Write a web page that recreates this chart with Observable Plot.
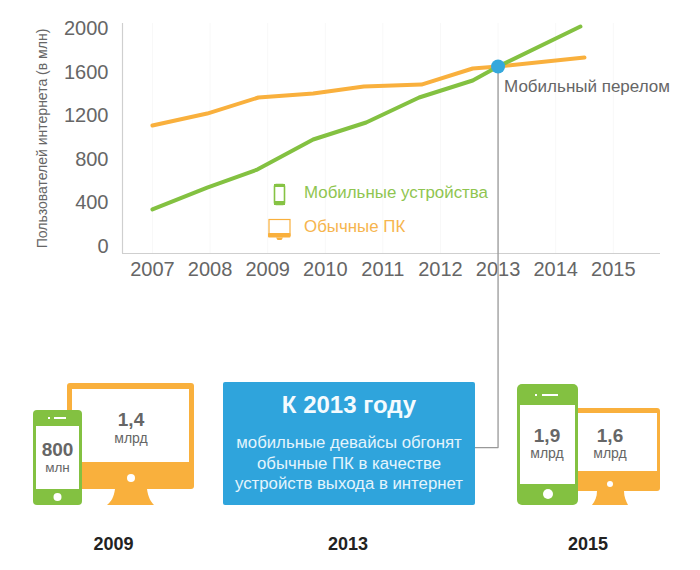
<!DOCTYPE html>
<html lang="ru">
<head>
<meta charset="utf-8">
<script src="https://cdn.jsdelivr.net/npm/d3@7"></script>
<script src="https://cdn.jsdelivr.net/npm/@observablehq/plot@0.6"></script>
<style>
  html, body { margin: 0; padding: 0; background: #fff; }
  #wrap { position: relative; width: 700px; height: 570px; font-family: "Liberation Sans", Arial, sans-serif; overflow: hidden; }
  #wrap > svg { position: absolute; left: 0; top: 0; }
  #card { position: absolute; left: 223px; top: 382px; width: 252px; height: 123px; background: #2fa4dc; border-radius: 2px; color: #e4f4fc; text-align: center; }
  #card h2 { margin: 0; position: absolute; left: 0; right: 0; top: 9px; font-size: 24px; line-height: 28px; font-weight: bold; color: #f4fbfe; }
  #card p { margin: 0; position: absolute; left: 0; right: 0; top: 51px; font-size: 16.8px; line-height: 20.5px; white-space: nowrap; }
</style>
</head>
<body>
<div id="wrap">
  <div id="chart"></div>
  <svg id="icons" width="700" height="570" viewBox="0 0 700 570" font-family="Liberation Sans, Arial, sans-serif">
    <!-- legend -->
    <rect x="274.5" y="184.5" width="10" height="20" rx="1.5" fill="#fff" stroke="#86c344" stroke-width="1.6"/>
    <rect x="274" y="184" width="11" height="3" fill="#86c344"/>
    <rect x="274" y="201" width="11" height="4" fill="#86c344"/>
    <text x="304" y="198" font-size="16.900" fill="#8fc550">Мобильные устройства</text>
    <rect x="269" y="219.5" width="21" height="16" fill="#fff" stroke="#f9b03d" stroke-width="1.2"/>
    <rect x="268" y="233" width="22.5" height="4.5" rx="1" fill="#f9b03d"/>
    <path d="M276 237.5H283L281.5 240H277.5Z" fill="#f9b03d"/>
    <text x="304" y="232" font-size="16.900" fill="#f6b54e">Обычные ПК</text>

    <!-- 2009 -->
    <rect x="67" y="383" width="127" height="106" rx="3" fill="#f9b03d"/>
    <rect x="72" y="389" width="117" height="73" fill="#fff"/>
    <circle cx="131" cy="478" r="4" fill="#fff"/>
    <path d="M115 489H147C148 497 151 502 154 505H107C111 502 114 497 115 489Z" fill="#f9b03d"/>
    <rect x="33" y="410" width="49" height="95" rx="4" fill="#83c141"/>
    <rect x="36" y="426" width="43" height="63" fill="#fff"/>
    <rect x="48" y="417" width="2" height="2" fill="#fff"/>
    <rect x="54" y="417" width="12" height="2" fill="#fff"/>
    <circle cx="57.500" cy="497" r="4" fill="#fff"/>
    <text x="57.500" y="456" text-anchor="middle" font-size="19" font-weight="bold" fill="#666">800</text>
    <text x="57.500" y="472" text-anchor="middle" font-size="13.500" fill="#666">млн</text>
    <text x="131" y="426" text-anchor="middle" font-size="19" font-weight="bold" fill="#666">1,4</text>
    <text x="131" y="443" text-anchor="middle" font-size="14" fill="#666">млрд</text>

    <!-- 2015 -->
    <rect x="570" y="408" width="90" height="83" rx="3" fill="#f9b03d"/>
    <rect x="570" y="413" width="87" height="58" fill="#fff"/>
    <circle cx="610" cy="484" r="3" fill="#fff"/>
    <path d="M597 491H624C624 497 626 501 628 505H592C595 501 597 497 597 491Z" fill="#f9b03d"/>
    <rect x="517" y="384" width="61" height="121" rx="5" fill="#83c141"/>
    <rect x="520" y="405" width="55" height="79" fill="#fff"/>
    <rect x="535" y="394" width="2" height="2" fill="#fff"/>
    <rect x="542" y="394" width="16" height="2" fill="#fff"/>
    <circle cx="548" cy="494" r="5" fill="#fff"/>
    <text x="547" y="442" text-anchor="middle" font-size="19" font-weight="bold" fill="#666">1,9</text>
    <text x="547" y="458" text-anchor="middle" font-size="14" fill="#666">млрд</text>
    <text x="610" y="442" text-anchor="middle" font-size="19" font-weight="bold" fill="#666">1,6</text>
    <text x="610" y="458" text-anchor="middle" font-size="14" fill="#666">млрд</text>

    <!-- years -->
    <text x="113.500" y="550" text-anchor="middle" font-size="18" font-weight="bold" fill="#222">2009</text>
    <text x="348" y="550" text-anchor="middle" font-size="18" font-weight="bold" fill="#222">2013</text>
    <text x="588" y="550" text-anchor="middle" font-size="18" font-weight="bold" fill="#222">2015</text>
  </svg>
  <div id="card">
    <h2>К 2013 году</h2>
    <p>мобильные девайсы обгонят<br>обычные ПК в качестве<br>устройств выхода в интернет</p>
  </div>
</div>
<script>
const yearTicks = [2007, 2008, 2009, 2010, 2011, 2012, 2013, 2014, 2015];
const valueTicks = [0, 400, 800, 1200, 1600, 2000];

const pcYears = [2007, 2007.95, 2008.84, 2009.79, 2010.67, 2011.67, 2012.56, 2013, 2014.5];
const pcUsers = [1110, 1220, 1367, 1404, 1468, 1486, 1633, 1651, 1734];

const mobileYears = [2007, 2007.95, 2008.82, 2009.79, 2010.71, 2011.63, 2012.56, 2013, 2014.43];
const mobileUsers = [340, 541, 706, 982, 1138, 1367, 1523, 1651, 2018];

const crossing = { year: 2013, users: 1651 };
const calloutYears = [2013, 2013, 2012.6];
const calloutUsers = [1651, -1844, -1844];

const series = (years, users) => years.map((year, i) => ({ year, users: users[i] }));
const axisYears = [2006.48, 2015.82];
const axisUsers = [-64, 2046];

const chart = Plot.plot({
  width: 700,
  height: 570,
  marginTop: 23,
  marginBottom: 317,
  marginLeft: 122,
  marginRight: 40,
  style: { background: "transparent", fontFamily: "Liberation Sans, Arial, sans-serif", overflow: "visible" },
  x: { domain: axisYears, axis: null },
  y: { domain: axisUsers, axis: null },
  marks: [
    Plot.ruleX(yearTicks, { y1: axisUsers[0], y2: axisUsers[1], stroke: "#f8f8f8" }),
    Plot.ruleY([axisUsers[0]], { stroke: "#cfcfcf", strokeWidth: 1.2 }),
    Plot.ruleX([axisYears[0]], { stroke: "#cfcfcf", strokeWidth: 1.2 }),
    Plot.axisX({ ticks: yearTicks, tickFormat: "d", tickSize: 0, tickPadding: 8, fontSize: 20, fill: "#666", label: null }),
    Plot.axisY({ ticks: valueTicks, tickFormat: "d", tickSize: 0, tickPadding: 14, fontSize: 20, fill: "#666", label: null }),
    Plot.text(["Пользователей интернета (в млн)"], { frameAnchor: "left", textAnchor: "middle", rotate: -90, dx: -80, fontSize: 14, fill: "#666" }),
    Plot.line(series(calloutYears, calloutUsers), { x: "year", y: "users", stroke: "#999", strokeWidth: 1.3 }),
    Plot.line(series(pcYears, pcUsers), { x: "year", y: "users", stroke: "#f9b03d", strokeWidth: 4, strokeLinecap: "round", strokeLinejoin: "round" }),
    Plot.line(series(mobileYears, mobileUsers), { x: "year", y: "users", stroke: "#83c141", strokeWidth: 4, strokeLinecap: "round", strokeLinejoin: "round" }),
    Plot.dot([crossing], { x: "year", y: "users", r: 7, fill: "#35a8dc" }),
    Plot.text([crossing], { x: "year", y: "users", text: () => "Мобильный перелом", textAnchor: "start", dx: 6, dy: 20, fontSize: 17, fill: "#666" })
  ]
});
document.getElementById("chart").appendChild(chart);
</script>
</body>
</html>
